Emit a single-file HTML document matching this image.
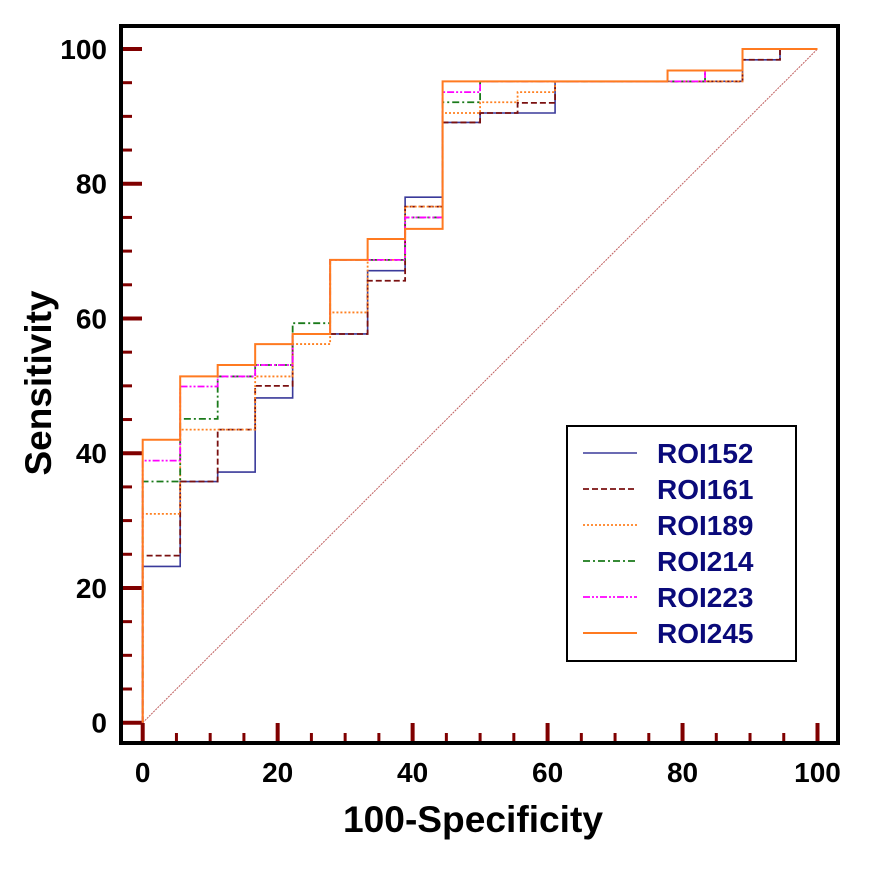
<!DOCTYPE html>
<html><head><meta charset="utf-8"><style>
body{margin:0;background:#fff}
svg text{font-family:"Liberation Sans",Arial,sans-serif;font-weight:bold}
</style></head><body>
<svg id="chart" width="870" height="866" xmlns="http://www.w3.org/2000/svg">
<rect x="0" y="0" width="870" height="866" fill="#fff"/>
<g id="ticks"></g>
<line x1="142.7" y1="722.7" x2="817.5" y2="49" stroke="#c06060" stroke-width="1" stroke-dasharray="2,1"/>
<g id="series"></g>
<rect x="121" y="26" width="717" height="717" fill="none" stroke="#000" stroke-width="4"/>
<text x="473" y="832" font-size="37" text-anchor="middle" textLength="260" lengthAdjust="spacingAndGlyphs">100-Specificity</text>
<text transform="translate(51,383) rotate(-90)" font-size="37" text-anchor="middle" textLength="185" lengthAdjust="spacingAndGlyphs">Sensitivity</text>
<g id="legend">
<rect x="567" y="426" width="229" height="235" fill="#fff" stroke="#000" stroke-width="2"/>
</g>
</svg>
<script>
const negSteps = 18;
const seriesNames = ["ROI152","ROI161","ROI189","ROI214","ROI223","ROI245"];
const roi152 = [23.2,35.8,37.2,48.2,57.7,57.7,67.1,78.0,89.1,90.5,90.5,95.2,95.2,95.2,95.2,95.2,98.4,100,100];
const roi161 = [24.8,35.8,43.5,50.0,57.7,57.7,65.6,76.6,89.1,90.5,92.0,95.2,95.2,95.2,95.2,95.2,98.4,100,100];
const roi189 = [31.0,43.5,43.5,51.4,56.2,60.9,68.7,76.6,90.5,92.1,93.6,95.2,95.2,95.2,95.2,95.2,100,100,100];
const roi214 = [35.8,45.1,51.4,53.1,59.3,68.7,68.7,75.0,92.1,95.2,95.2,95.2,95.2,95.2,95.2,96.8,100,100,100];
const roi223 = [38.9,49.9,51.4,53.1,57.7,68.7,68.7,75.0,93.6,95.2,95.2,95.2,95.2,95.2,95.2,96.8,100,100,100];
const roi245 = [42.0,51.4,53.1,56.2,57.7,68.7,71.8,73.3,95.2,95.2,95.2,95.2,95.2,95.2,96.8,96.8,100,100,100];
const xTicks = [0,20,40,60,80,100];
const yTicks = [0,20,40,60,80,100];
const seriesData=[roi152,roi161,roi189,roi214,roi223,roi245];
const colors=["#3a3a9a","#7a1010","#ff8020","#1a7a1a","#ff00ff","#ff7a20"];
const dashes=["","6,3","2,2","7,3,2,3","7,2,2,2,2,2",""];
const widths=[1.6,1.8,1.8,1.8,1.8,2];
const X=v=>142.7+v*6.748, Y=v=>722.7-v*6.737;
const NS="http://www.w3.org/2000/svg";
function mk(t,a,p){const e=document.createElementNS(NS,t);for(const k in a)e.setAttribute(k,a[k]);p.appendChild(e);return e;}
const tg=document.getElementById('ticks');
for(let v=0;v<=100;v+=5){
  const maj=v%20===0;
  const l=mk('line',{x1:X(v),x2:X(v),y1:741,y2:maj?723:733,stroke:'#800000','stroke-width':maj?4:3},tg);
  
  
  const l2=mk('line',{x1:123,x2:maj?142:132,y1:Y(v),y2:Y(v),stroke:'#800000','stroke-width':maj?4:3},tg);
  
  
}
xTicks.forEach(v=>{const t=mk('text',{x:X(v),y:782,'font-size':28,'text-anchor':'middle'},tg);t.textContent=v;
  
  });
yTicks.forEach(v=>{const t=mk('text',{x:107,y:Y(v)+10,'font-size':28,'text-anchor':'end'},tg);t.textContent=v;
  
  });
const sg=document.getElementById('series');
seriesData.forEach((d,i)=>{
  let p=`M${X(0)},${Y(0)}`;
  for(let k=0;k<d.length;k++){const x=k*100/negSteps;p+=` L${X(x)},${Y(d[k])}`;const xn=Math.min(100,(k+1)*100/negSteps);p+=` L${X(xn)},${Y(d[k])}`;}
  const a={d:p,fill:'none',stroke:colors[i],'stroke-width':widths[i]};if(dashes[i])a['stroke-dasharray']=dashes[i];
  const e=mk('path',a,sg);
  
  
});
const lg=document.getElementById('legend');
seriesNames.forEach((n,i)=>{const y=453+i*36;
  const a={x1:583,x2:637,y1:y,y2:y,stroke:colors[i],'stroke-width':widths[i]};if(dashes[i])a['stroke-dasharray']=dashes[i];
  const l=mk('line',a,lg);
  
  
  const t=mk('text',{x:657,y:y+10,'font-size':28,fill:'#0a0a7a'},lg);t.textContent=n;
  
  
});
</script>
</body></html>
